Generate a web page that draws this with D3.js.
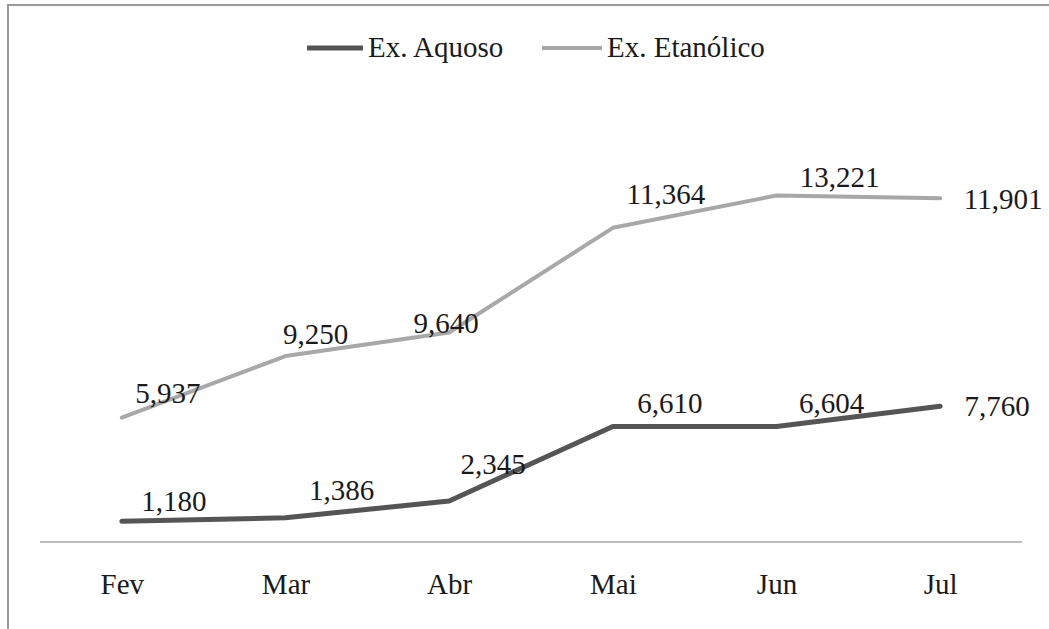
<!DOCTYPE html>
<html>
<head>
<meta charset="utf-8">
<script src="https://cdn.jsdelivr.net/npm/d3@7"></script>
<style>
  html, body { margin: 0; padding: 0; background: #fff; }
  svg { display: block; }
  text { font-family: "Liberation Serif", "Times New Roman", serif; fill: #1a1a1a; }
</style>
</head>
<body>
<svg id="chart" width="1049" height="629"></svg>
<script>
// Months sampled
const months = ["Fev", "Mar", "Abr", "Mai", "Jun", "Jul"];
// Extract values per month
const aquoso = [1.180, 1.386, 2.345, 6.610, 6.604, 7.760];
const etanolico = [5.937, 9.250, 9.640, 11.364, 13.221, 11.901];
const seriesNames = ["Ex. Aquoso", "Ex. Etanólico"];

// Label nudges (px) from each point to its label centre
const labelNudge = [
  [[52, -20], [56, -28], [44, -37], [57, -23], [55, -24], [57, 0]],
  [[46, -25], [30, -22], [-3, -10], [53, -34], [63, -18], [63, 1]]
];
const colors = ["#555555", "#a8a8a8"];
const widths = [5, 4];

const svg = d3.select("#chart");

// Outer frame
svg.append("rect")
  .attr("x", 8).attr("y", 5).attr("width", 1100).attr("height", 700)
  .attr("fill", "none").attr("stroke", "#9a9a9a").attr("stroke-width", 2);

const x = d3.scalePoint().domain(months).range([40, 1022]).padding(0.5);
const y = d3.scaleLinear().domain([0, 25]).range([542, 542 - 25 * 17.48]);

// Stacked lines: second series sits on top of the first
const rows = months.map((m, i) => ({ month: m, a: aquoso[i], e: etanolico[i] }));
const stacked = d3.stack().keys(["a", "e"])(rows);

const ptBr = d3.formatLocale({ decimal: ",", thousands: ".", grouping: [3], currency: ["", ""] });
const fmt = ptBr.format(".3f");

// Category axis
const xAxis = svg.append("g").attr("transform", "translate(0,542)")
  .call(d3.axisBottom(x).tickSize(0).tickPadding(0));
xAxis.select(".domain").remove();
xAxis.append("line").attr("x1", 40).attr("x2", 1022)
  .attr("stroke", "#bdbdbd").attr("stroke-width", 2);
xAxis.selectAll(".tick text")
  .attr("y", 52).attr("dy", null)
  .attr("font-size", 29)
  .attr("font-family", "Liberation Serif, Times New Roman, serif")
  .attr("fill", "#1a1a1a");

const line = d3.line().x(d => x(d.data.month)).y(d => y(d[1]));

stacked.forEach((layer, si) => {
  svg.append("path")
    .datum(layer)
    .attr("fill", "none")
    .attr("stroke", colors[si])
    .attr("stroke-width", widths[si])
    .attr("stroke-linejoin", "round")
    .attr("stroke-linecap", "round")
    .attr("d", line);

  const values = si === 0 ? aquoso : etanolico;
  svg.append("g").selectAll("text")
    .data(layer)
    .join("text")
    .attr("x", (d, i) => x(d.data.month) + labelNudge[si][i][0])
    .attr("y", (d, i) => y(d[1]) + labelNudge[si][i][1] + 10)
    .attr("text-anchor", "middle")
    .attr("font-size", 29)
    .text((d, i) => fmt(values[i]));
});

// Legend
const legendItems = [
  { x1: 307, x2: 363, tx: 368 },
  { x1: 542, x2: 602, tx: 607 }
];
const legend = svg.append("g");
legendItems.forEach((it, i) => {
  legend.append("line")
    .attr("x1", it.x1).attr("x2", it.x2).attr("y1", 48).attr("y2", 48)
    .attr("stroke", colors[i]).attr("stroke-width", widths[i]);
  legend.append("text")
    .attr("x", it.tx).attr("y", 57)
    .attr("font-size", 29)
    .text(seriesNames[i]);
});
</script>
</body>
</html>
